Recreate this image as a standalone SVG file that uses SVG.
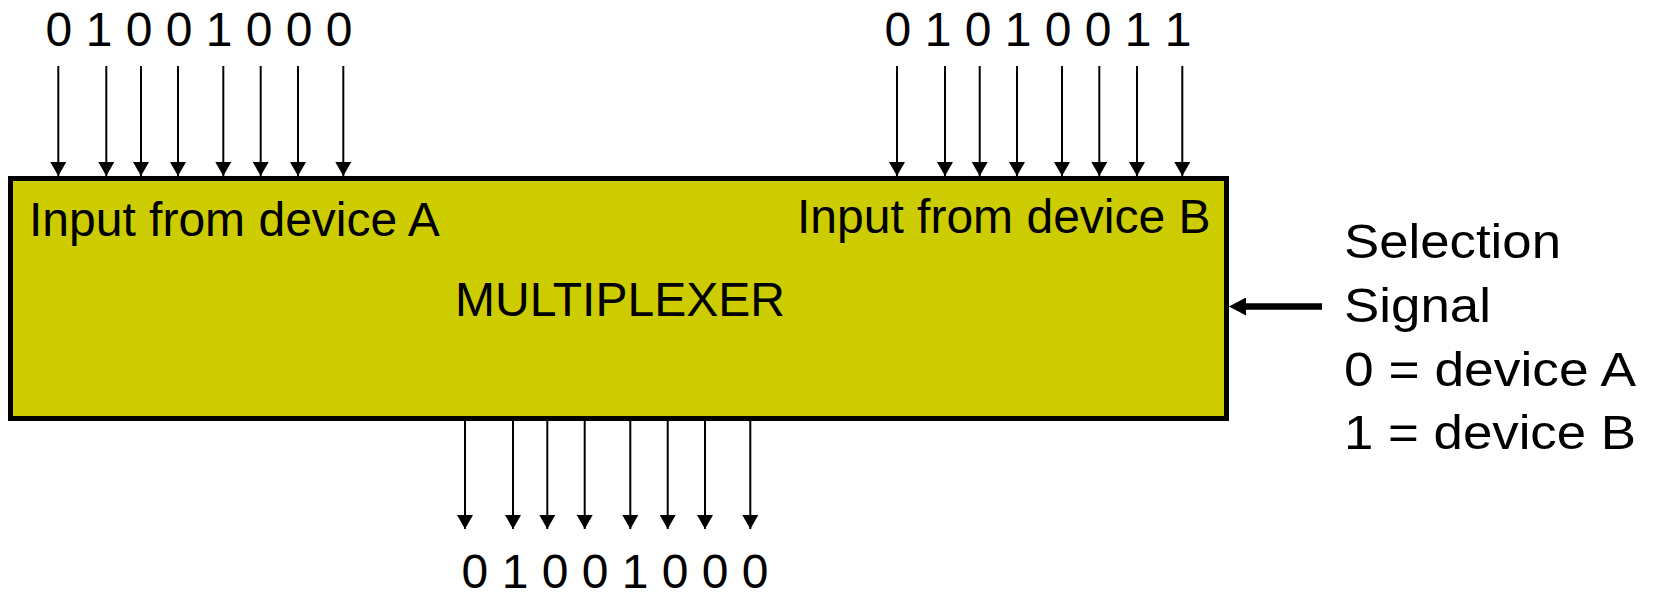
<svg xmlns="http://www.w3.org/2000/svg" width="1657" height="593" viewBox="0 0 1657 593">
<style>
text{font-family:"Liberation Sans",Arial,sans-serif;font-size:48px;fill:#000}
.w{stroke:#000;stroke-width:2;fill:none}
.s{stroke:#000;stroke-width:6.5;fill:none}
</style>
<defs>
<marker id="ah" markerUnits="userSpaceOnUse" markerWidth="14" markerHeight="16" refX="14" refY="8" orient="auto" viewBox="0 0 14 16">
<path d="M0,0 L14,8 L0,16 z" fill="#000"/>
</marker>
<marker id="ah2" markerUnits="userSpaceOnUse" markerWidth="17" markerHeight="18" refX="1" refY="9" orient="auto" viewBox="0 0 17 18">
<path d="M0,0 L17,9 L0,18 z" fill="#000"/>
</marker>
</defs>
<rect width="1657" height="593" fill="#fff"/>
<g id="mux">
<rect x="10.5" y="178.5" width="1216" height="240" fill="#CCCC00" stroke="#000" stroke-width="5"/>
<text x="29" y="236">Input from device A</text>
<text x="797" y="233">Input from device B</text>
<text x="455" y="316">MULTIPLEXER</text>
</g>
<g id="inputA">
<text x="45.6" y="46">0 1 0 0 1 0 0 0</text>
</g>
<g id="inputB">
<text x="884.6" y="46">0 1 0 1 0 0 1 1</text>
</g>
<g id="output">
<text x="461.6" y="588">0 1 0 0 1 0 0 0</text>
</g>
<g id="selection">
<text x="1344" y="258" textLength="217" lengthAdjust="spacingAndGlyphs">Selection</text>
<text x="1344" y="322" textLength="147" lengthAdjust="spacingAndGlyphs">Signal</text>
<text x="1344" y="386" textLength="292" lengthAdjust="spacingAndGlyphs">0 = device A</text>
<text x="1344" y="449" textLength="292" lengthAdjust="spacingAndGlyphs">1 = device B</text>
</g>
<g id="connectors">
<line class="w" x1="58.3" y1="66" x2="58.3" y2="176" marker-end="url(#ah)"/>
<line class="w" x1="106.3" y1="66" x2="106.3" y2="176" marker-end="url(#ah)"/>
<line class="w" x1="141" y1="66" x2="141" y2="176" marker-end="url(#ah)"/>
<line class="w" x1="178" y1="66" x2="178" y2="176" marker-end="url(#ah)"/>
<line class="w" x1="223.3" y1="66" x2="223.3" y2="176" marker-end="url(#ah)"/>
<line class="w" x1="260.7" y1="66" x2="260.7" y2="176" marker-end="url(#ah)"/>
<line class="w" x1="298" y1="66" x2="298" y2="176" marker-end="url(#ah)"/>
<line class="w" x1="343.3" y1="66" x2="343.3" y2="176" marker-end="url(#ah)"/>
<line class="w" x1="897" y1="66" x2="897" y2="176" marker-end="url(#ah)"/>
<line class="w" x1="945" y1="66" x2="945" y2="176" marker-end="url(#ah)"/>
<line class="w" x1="979.7" y1="66" x2="979.7" y2="176" marker-end="url(#ah)"/>
<line class="w" x1="1017" y1="66" x2="1017" y2="176" marker-end="url(#ah)"/>
<line class="w" x1="1062" y1="66" x2="1062" y2="176" marker-end="url(#ah)"/>
<line class="w" x1="1099.3" y1="66" x2="1099.3" y2="176" marker-end="url(#ah)"/>
<line class="w" x1="1137" y1="66" x2="1137" y2="176" marker-end="url(#ah)"/>
<line class="w" x1="1182.3" y1="66" x2="1182.3" y2="176" marker-end="url(#ah)"/>
<line class="w" x1="465" y1="421" x2="465" y2="529" marker-end="url(#ah)"/>
<line class="w" x1="513" y1="421" x2="513" y2="529" marker-end="url(#ah)"/>
<line class="w" x1="547.3" y1="421" x2="547.3" y2="529" marker-end="url(#ah)"/>
<line class="w" x1="584.7" y1="421" x2="584.7" y2="529" marker-end="url(#ah)"/>
<line class="w" x1="630.3" y1="421" x2="630.3" y2="529" marker-end="url(#ah)"/>
<line class="w" x1="667.7" y1="421" x2="667.7" y2="529" marker-end="url(#ah)"/>
<line class="w" x1="705" y1="421" x2="705" y2="529" marker-end="url(#ah)"/>
<line class="w" x1="750.3" y1="421" x2="750.3" y2="529" marker-end="url(#ah)"/>
<line class="s" x1="1322" y1="306.5" x2="1245" y2="306.5" marker-end="url(#ah2)"/>
</g>
</svg>
